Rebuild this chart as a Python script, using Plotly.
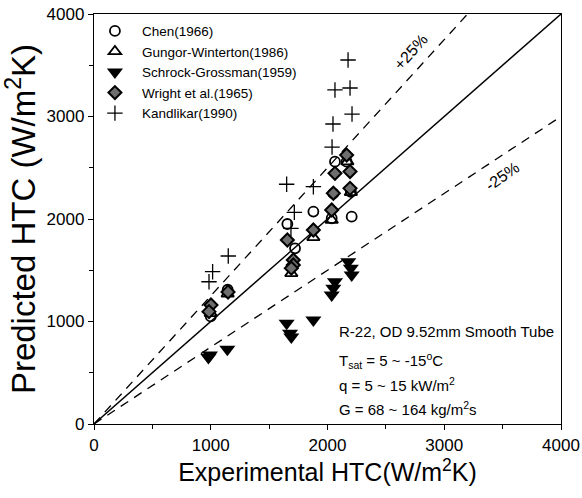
import plotly.graph_objects as go

# ---- data ----
chen_x = [1000, 1145, 1656, 1722, 1879, 2036, 2050, 2064, 2164, 2200, 2207]
chen_y = [1050, 1310, 1951, 1714, 2072, 2007, 2250, 2559, 2559, 2266, 2023]

gungor_x = [1000, 1145, 1690, 1879, 2036, 2200, 2170]
gungor_y = [1080, 1270, 1470, 1821, 1990, 2260, 2560]

schrock_x = [993, 980, 1142, 1650, 1679, 1690, 1879, 2036, 2050, 2064, 2178, 2200, 2207]
schrock_y = [673, 650, 729, 982, 885, 850, 1015, 1259, 1324, 1388, 1583, 1519, 1454]

wright_x = [1002, 985, 1148, 1656, 1707, 1707, 1690, 1879, 2036, 2050, 2064, 2164, 2193, 2193]
wright_y = [1161, 1096, 1288, 1795, 1600, 1551, 1520, 1893, 2088, 2251, 2446, 2624, 2463, 2299]

kand_x = [985, 1016, 1150, 1650, 1879, 1716, 1687, 2039, 2047, 2064, 2176, 2193, 2210]
kand_y = [1388, 1486, 1639, 2339, 2315, 2065, 1909, 2702, 2927, 3259, 3551, 3278, 3024]

ratio_lines = [1.0, 1.25, 0.75]
x_ticks = [0, 1000, 2000, 3000, 4000]
y_ticks = [0, 1000, 2000, 3000, 4000]

FONT = "Liberation Sans, Arial, sans-serif"

fig = go.Figure()

# reference lines
for r in ratio_lines:
    xs = [0, min(4000, 4000 / r)]
    ys = [x * r for x in xs]
    fig.add_trace(go.Scatter(
        x=xs, y=ys, mode="lines", showlegend=False, hoverinfo="skip",
        line=dict(color="black", width=1.4 if r == 1.0 else 1.3,
                  dash="solid" if r == 1.0 else "9px,7px")))

fig.add_trace(go.Scatter(x=chen_x, y=chen_y, mode="markers", name="Chen(1966)",
    marker=dict(symbol="circle-open", size=10, color="black", line=dict(width=1.8))))
fig.add_trace(go.Scatter(x=gungor_x, y=gungor_y, mode="markers", name="Gungor-Winterton(1986)",
    marker=dict(symbol="triangle-up-open", size=11, color="black", line=dict(width=1.8))))
fig.add_trace(go.Scatter(x=schrock_x, y=schrock_y, mode="markers", name="Schrock-Grossman(1959)",
    marker=dict(symbol="triangle-down", size=14, color="black", line=dict(width=0))))
fig.add_trace(go.Scatter(x=wright_x, y=wright_y, mode="markers", name="Wright et al.(1965)",
    marker=dict(symbol="diamond", size=10, color="#6e6e6e", line=dict(width=2, color="black"))))
fig.add_trace(go.Scatter(x=kand_x, y=kand_y, mode="markers", name="Kandlikar(1990)",
    marker=dict(symbol="cross-thin", size=11, color="black", line=dict(width=1.3, color="black"))))

annots = [
    dict(x=2707, y=3629, text="+25%", textangle=-48, font=dict(size=16)),
    dict(x=3495, y=2410, text="-25%", textangle=-35, font=dict(size=16)),
    dict(x=2081, y=907, text="R-22, OD 9.52mm Smooth Tube", xanchor="left", font=dict(size=15)),
    dict(x=2081, y=624, text="T<sub>sat</sub> = 5 ~ -15<sup>o</sup>C", xanchor="left", font=dict(size=15)),
    dict(x=2081, y=390, text="q = 5 ~ 15 kW/m<sup>2</sup>", xanchor="left", font=dict(size=15)),
    dict(x=2081, y=156, text="G = 68 ~ 164 kg/m<sup>2</sup>s", xanchor="left", font=dict(size=15)),
]
for a in annots:
    a.update(xref="x", yref="y", showarrow=False)
    a["font"].update(family=FONT, color="black")
    fig.add_annotation(**a)

axis_common = dict(
    range=[0, 4000], showgrid=False, zeroline=False, showline=True, linecolor="black",
    linewidth=1.3, mirror=True, ticks="outside", ticklen=5, tickwidth=1.2, tickcolor="black",
    tickfont=dict(family=FONT, size=17, color="black"), automargin=False,
    ticklabeloverflow="allow",
    minor=dict(ticks="outside", ticklen=4, tickwidth=1, tickcolor="black", dtick=500, showgrid=False),
)
fig.update_xaxes(**axis_common, tickvals=x_ticks,
    title=dict(text="Experimental HTC(W/m<sup>2</sup>K)", font=dict(family=FONT, size=25, color="black"), standoff=4))
fig.update_yaxes(**axis_common, tickvals=y_ticks,
    title=dict(text="Predicted HTC (W/m<sup>2</sup>K)", font=dict(family=FONT, size=33, color="black"), standoff=9))

fig.update_layout(
    width=582, height=498,
    margin=dict(l=94, r=21, t=14, b=74, autoexpand=False),
    paper_bgcolor="white", plot_bgcolor="white",
    showlegend=True,
    legend=dict(x=-0.013, y=0.996, xanchor="left", yanchor="top", bgcolor="rgba(0,0,0,0)",
                font=dict(family=FONT, size=13.5, color="black"), itemwidth=44,
                tracegroupgap=0),
)

# remove the default 8px page margin so the figure sits at the window origin
fig.write_html("out.html", config={"displayModeBar": False},
               post_script="document.body.style.margin='0px';")
